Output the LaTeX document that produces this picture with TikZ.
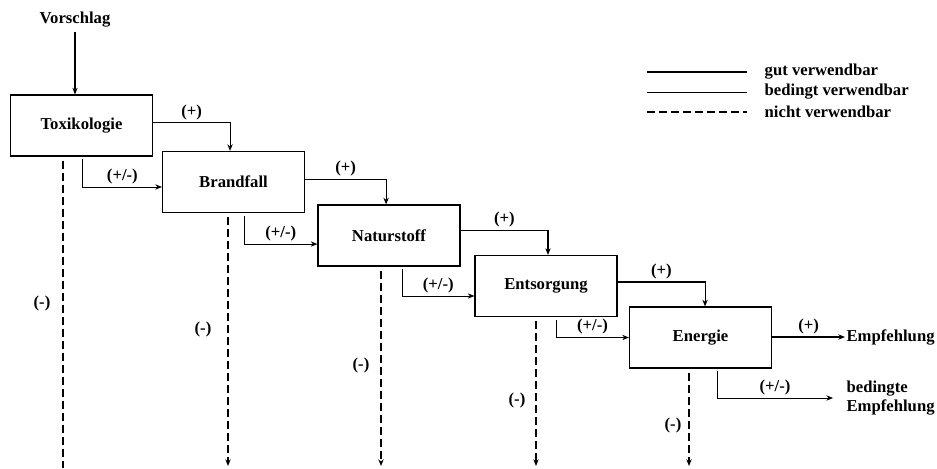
\documentclass[tikz,border=0pt]{standalone}
\usepackage{fontspec}
\setmainfont{Liberation Serif}
\usetikzlibrary{arrows.meta}
\begin{document}
\begin{tikzpicture}[x=0.75pt,y=-0.75pt, every node/.style={font=\fontsize{12.5}{14}\selectfont\bfseries},
  stufe/.style={draw,line width=0.9pt,minimum width=106.5pt,minimum height=45.75pt,inner sep=0pt},
  gut/.style={line width=0.8pt,-{Stealth[length=5pt,width=4pt]}},
  bedingt/.style={line width=0.6pt,shorten <=2pt,-{Stealth[length=5pt,width=4pt]}},
  nicht/.style={line width=0.8pt,dash pattern=on 6pt off 3pt,shorten <=3pt,-{Stealth[length=5pt,width=4pt]}},
  lbl/.style={inner sep=2pt}]
\useasboundingbox (0,0) rectangle (937,468);
\node (vor) at (75,20) {Vorschlag};
\node[stufe] (tox) at (81.5,125.5) {Toxikologie};
\node[stufe] (brand) at (233.5,182) {Brandfall};
\node[stufe] (natur) at (389,235.5) {Naturstoff};
\node[stufe] (ents) at (546,286) {Entsorgung};
\node[stufe] (ener) at (700.5,337.5) {Energie};
\node[anchor=west,inner sep=1pt] (emp) at (845,337) {Empfehlung};
\node[anchor=west,inner sep=1pt,align=left] (bemp) at (845,398) {bedingte\\Empfehlung};
\coordinate (d1) at (63,468); \coordinate (d2) at (228,466); \coordinate (d3) at (381,466);
\coordinate (d4) at (536,466); \coordinate (d5) at (689,466);
\draw[gut] (vor.south) -- (vor.south |- tox.north);
\draw[gut] ([yshift=2pt]tox.east) -| node[pos=.25,above,lbl] (p1) {(+)} ([xshift=-2.6pt]brand.north);
\draw[gut] ([yshift=2.2pt]brand.east) -| node[pos=.25,above,lbl] (p2) {(+)} ([xshift=-2.2pt]natur.north);
\draw[gut] ([yshift=4pt]natur.east) -| node[pos=.25,above,lbl] (p3) {(+)} ([xshift=1.5pt]ents.north);
\draw[gut] ([yshift=3pt]ents.east) -| node[pos=.25,above,lbl] (p4) {(+)} ([xshift=3.4pt]ener.north);
\draw[gut] (ener.east |- emp.west) -- node[above,lbl] (p5) {(+)} (emp.west);
\draw[bedingt] ([xshift=1pt]tox.south) |- node[pos=.75,above,lbl] (b1) {(+/-)} ([yshift=-3.75pt]brand.west);
\draw[bedingt] ([xshift=7.9pt]brand.south) |- node[pos=.75,above,lbl] (b2) {(+/-)} ([yshift=-6.4pt]natur.west);
\draw[bedingt] ([xshift=9.75pt]natur.south) |- node[pos=.75,above,lbl] (b3) {(+/-)} ([yshift=-7.5pt]ents.west);
\draw[bedingt] ([xshift=7.5pt]ents.south) |- node[pos=.75,above,lbl] (b4) {(+/-)} (ener.west);
\draw[bedingt] ([xshift=12.4pt]ener.south) |- node[pos=.75,above,lbl] (b5) {(+/-)} ([xshift=-9pt]bemp.west);
\draw[nicht,-] (tox.south -| d1) -- (d1);
\draw[nicht] (brand.south -| d2) -- (d2);
\draw[nicht] (natur.south -| d3) -- (d3);
\draw[nicht] (ents.south -| d4) -- (d4);
\draw[nicht] (ener.south -| d5) -- (d5);
\node (m1) at (42,303) {(-)};
\node (m2) at (203,329) {(-)};
\node (m3) at (361,365) {(-)};
\node (m4) at (517,400) {(-)};
\node (m5) at (673,425) {(-)};
\coordinate (la1) at (647,72); \coordinate (lb1) at (747,72);
\coordinate (la2) at (647,92); \coordinate (lb2) at (747,92);
\coordinate (la3) at (647,112); \coordinate (lb3) at (747,112);
\draw[line width=1.1pt] (la1) -- (lb1);
\draw[line width=0.6pt] (la2) -- (lb2);
\draw[line width=0.8pt,dash pattern=on 6pt off 3pt] (la3) -- (lb3);
\node[anchor=west] (g1) at (760,72) {gut verwendbar};
\node[anchor=west] (g2) at (760,92) {bedingt verwendbar};
\node[anchor=west] (g3) at (760,112) {nicht verwendbar};
\end{tikzpicture}
\end{document}
